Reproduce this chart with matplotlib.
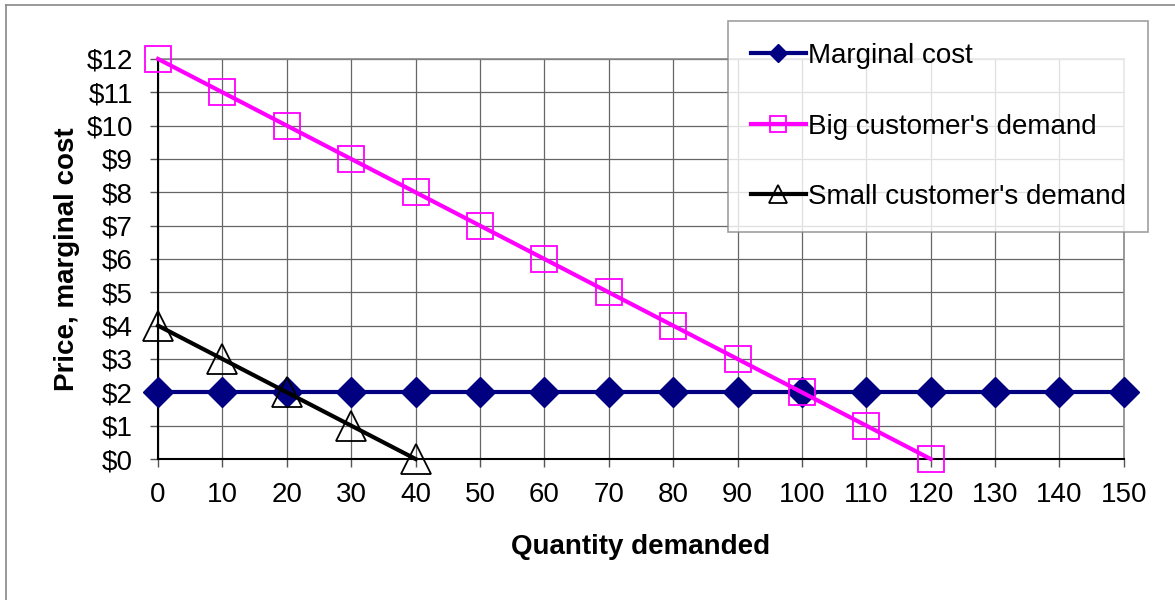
import matplotlib.pyplot as plt
from matplotlib.lines import Line2D

plt.rcParams['font.family'] = ['Liberation Sans', 'DejaVu Sans']

quantity_mc = [0, 10, 20, 30, 40, 50, 60, 70, 80, 90, 100, 110, 120, 130, 140, 150]
marginal_cost = [2, 2, 2, 2, 2, 2, 2, 2, 2, 2, 2, 2, 2, 2, 2, 2]
quantity_big = [0, 10, 20, 30, 40, 50, 60, 70, 80, 90, 100, 110, 120]
big_demand = [12, 11, 10, 9, 8, 7, 6, 5, 4, 3, 2, 1, 0]
quantity_small = [0, 10, 20, 30, 40]
small_demand = [4, 3, 2, 1, 0]

x_ticks = list(range(0, 151, 10))
y_ticks = list(range(0, 13))
y_labels = ["${}".format(v) for v in y_ticks]

fig = plt.figure(figsize=(11.75, 6), dpi=100)
ax = fig.add_axes([0.1345, 0.235, 0.822, 0.6667])

# outer chart frame (partly outside the picture)
fig.add_artist(Line2D([0.005, 0.005], [0, 0.992], color='#888888', lw=1.2))
fig.add_artist(Line2D([0.005, 1], [0.992, 0.992], color='#888888', lw=1.2))

ax.plot(quantity_mc, marginal_cost, color='#000080', lw=3, marker='D',
        markersize=15, markerfacecolor='#000080', markeredgecolor='#000080',
        label='Marginal cost', clip_on=False, zorder=3)
ax.plot(quantity_big, big_demand, color='#ff00ff', lw=3, marker='s',
        markersize=19, markerfacecolor='none', markeredgecolor='#ff00ff',
        markeredgewidth=1.3, label="Big customer's demand", clip_on=False, zorder=4)
ax.plot(quantity_small, small_demand, color='black', lw=3, marker='^',
        markersize=21, markerfacecolor='none', markeredgecolor='black',
        markeredgewidth=1.3, label="Small customer's demand", clip_on=False, zorder=5)

ax.set_xlim(0, 150)
ax.set_ylim(0, 12)
ax.set_xticks(x_ticks)
ax.set_yticks(y_ticks)
ax.set_yticklabels(y_labels)
ax.tick_params(axis='both', labelsize=20, direction='out', length=6, width=1,
               color='#555555')
ax.tick_params(axis='x', pad=10.5)
ax.tick_params(axis='y', pad=12)
ax.grid(True, color='#666666', lw=0.9)
ax.set_axisbelow(True)
for s in ['top', 'right']:
    ax.spines[s].set_color('#888888')
    ax.spines[s].set_linewidth(1.2)
for s in ['left', 'bottom']:
    ax.spines[s].set_color('black')
    ax.spines[s].set_linewidth(1.5)

ax.set_xlabel('Quantity demanded', fontsize=20, fontweight='bold', labelpad=18.5)
ax.set_ylabel('Price, marginal cost', fontsize=20, fontweight='bold', labelpad=5)

leg = ax.legend(loc='upper right', bbox_to_anchor=(1.0248, 1.095), fontsize=20,
                frameon=True, fancybox=False, edgecolor='#888888',
                markerscale=0.6, handlelength=2.0, handletextpad=0.05,
                labelspacing=1.6, borderpad=0.8, borderaxespad=0)
leg.get_frame().set_linewidth(1.2)
leg.set_zorder(10)

fig.savefig("out.png", dpi=100)
